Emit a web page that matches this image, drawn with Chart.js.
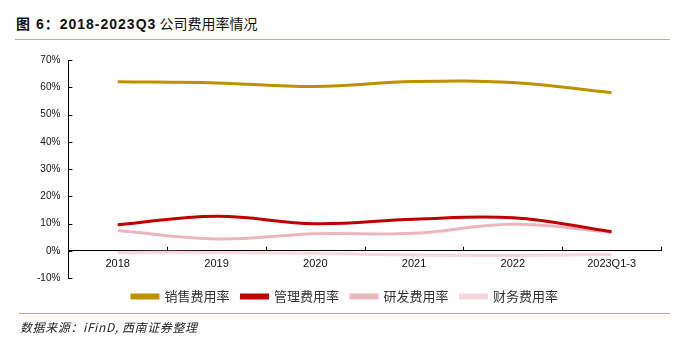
<!DOCTYPE html>
<html>
<head>
<meta charset="utf-8">
<script src="https://cdn.jsdelivr.net/npm/chart.js@4/dist/chart.umd.min.js"></script>
<style>
    html, body { margin: 0; padding: 0; background: #fff; }
    #wrap { position: relative; width: 676px; height: 338px; overflow: hidden; }
    #chart { position: absolute; left: 0; top: 0; }
    .title {
        position: absolute; left: 16px; top: 13px;
        font: 14px "Noto Sans CJK SC", "Liberation Sans", sans-serif; color: #111;
    }
    .title b { font-family: "Liberation Sans", "Noto Sans CJK SC", sans-serif; letter-spacing: 1px; }
    .rule { position: absolute; left: 15px; width: 655px; height: 1px; background: #dca46a; }
    .source {
        position: absolute; left: 20px; top: 318px; letter-spacing: 0.6px;
        font: italic 12px "Noto Sans CJK SC", "Liberation Sans", sans-serif; color: #222;
    }
</style>
</head>
<body>
<div id="wrap">
    <div class="title"><b>图 6：2018-2023Q3</b> 公司费用率情况</div>
    <div class="rule" style="top:39px"></div>
    <canvas id="chart" width="676" height="338"></canvas>
    <div class="rule" style="top:313px; left:19px; width:651px"></div>
    <div class="source">数据来源：iFinD, 西南证券整理</div>
</div>
<script>
    // 年份
    const years = ['2018', '2019', '2020', '2021', '2022', '2023Q1-3'];
    // 各项费用率 (%)
    const salesRate = [62.0, 61.6, 60.3, 62.1, 61.7, 58.0];
    const adminRate = [9.5, 12.7, 9.9, 11.6, 12.1, 7.0];
    const rdRate = [7.4, 4.3, 6.2, 6.4, 9.7, 6.8];
    const financeRate = [-0.6, -0.6, -0.9, -1.6, -1.7, -1.4];
    const seriesNames = ['销售费用率', '管理费用率', '研发费用率', '财务费用率'];
    const seriesColors = ['#bf9000', '#c00000', '#ecb6c0', '#f8d6dd'];

    // 刻度线朝内画：y 轴向右，x 轴(0% 处)向上
    const insideTicks = {
        id: 'insideTicks',
        afterDraw(chart) {
            const { ctx, scales: { x, y } } = chart;
            const y0 = y.getPixelForValue(0);
            ctx.save();
            ctx.strokeStyle = '#000';
            ctx.lineWidth = 1;
            ctx.beginPath();
            y.ticks.forEach(t => {
                const py = Math.round(y.getPixelForValue(t.value)) + 0.5;
                ctx.moveTo(x.left, py);
                ctx.lineTo(x.left + 4, py);
            });
            for (let i = 0; i <= years.length; i++) {
                const px = Math.round(x.getPixelForValue(i - 0.5)) + 0.5;
                ctx.moveTo(px, y0);
                ctx.lineTo(px, y0 - 4);
            }
            ctx.stroke();
            ctx.restore();
        }
    };

    const makeSet = (i, data) => ({
        label: seriesNames[i],
        data: data,
        borderColor: seriesColors[i],
        backgroundColor: seriesColors[i],
        borderWidth: 3,
        pointRadius: 0,
        tension: 0.4,
        fill: false
    });

    new Chart(document.getElementById('chart'), {
        type: 'line',
        data: {
            labels: years,
            datasets: [
                makeSet(0, salesRate),
                makeSet(1, adminRate),
                makeSet(2, rdRate),
                makeSet(3, financeRate)
            ]
        },
        options: {
            responsive: false,
            animation: false,
            layout: { padding: { top: 60, left: 29, right: 15, bottom: 25 } },
            plugins: {
                title: { display: false },
                tooltip: { enabled: false },
                legend: {
                    position: 'bottom',
                    labels: {
                        boxWidth: 26,
                        boxHeight: 3,
                        padding: 12,
                        color: '#333',
                        font: { family: '"Noto Sans CJK SC", sans-serif', size: 13 }
                    }
                }
            },
            scales: {
                x: {
                    position: { y: 0 },
                    offset: true,
                    // 轴放在 0% 处，不额外占用底部空间
                    afterFit(scale) { scale.height = 0; },
                    grid: { display: false, drawTicks: false, offset: true },
                    border: { display: true, color: '#000', width: 1 },
                    ticks: {
                        padding: 7,
                        color: '#111',
                        maxRotation: 0,
                        font: { family: '"Liberation Sans", Arial, sans-serif', size: 11 }
                    }
                },
                y: {
                    min: -10,
                    max: 70,
                    grid: { display: false, drawTicks: false },
                    border: { display: true, color: '#000', width: 1 },
                    ticks: {
                        stepSize: 10,
                        padding: 8,
                        color: '#111',
                        font: { family: '"Liberation Sans", Arial, sans-serif', size: 10 },
                        callback: v => v + '%'
                    }
                }
            }
        },
        plugins: [insideTicks]
    });
</script>
</body>
</html>
